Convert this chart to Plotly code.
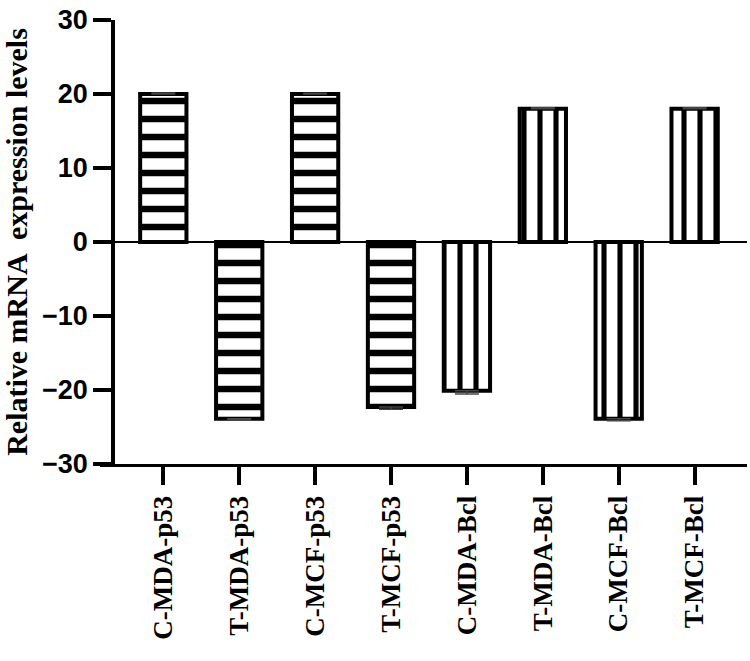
import plotly.graph_objects as go

categories = ["C-MDA-p53", "T-MDA-p53", "C-MCF-p53", "T-MCF-p53",
              "C-MDA-Bcl", "T-MDA-Bcl", "C-MCF-Bcl", "T-MCF-Bcl"]
values = [20.0, -23.9, 20.0, -22.3, -20.1, 18.0, -23.9, 18.0]
errors = [0.15, 0.2, 0.1, 0.3, 0.45, 0.15, 0.25, 0.15]
y_ticks = [-30, -20, -10, 0, 10, 20, 30]

shapes_pat = ["-" if "p53" in c else "|" for c in categories]
sizes_pat = [18 if "p53" in c else 16 for c in categories]
solid_pat = [0.36 if "p53" in c else 0.32 for c in categories]
err_up = [e if v > 0 else 0 for v, e in zip(values, errors)]
err_dn = [e if v < 0 else 0 for v, e in zip(values, errors)]

fig = go.Figure()
fig.add_trace(go.Bar(
    x=categories, y=values,
    marker=dict(color="white",
                line=dict(color="black", width=4),
                pattern=dict(shape=shapes_pat, size=sizes_pat, solidity=solid_pat,
                             fgcolor="black", fgopacity=1, bgcolor="white",
                             fillmode="overlay")),
    error_y=dict(type="data", symmetric=False, array=err_up, arrayminus=err_dn,
                 color="#444", thickness=1.5, width=12),
    showlegend=False,
))

fig.add_shape(type="line", xref="paper", yref="y", x0=0.02, x1=1, y0=0, y1=0,
              line=dict(color="black", width=2), layer="above")

fig.update_layout(
    width=750, height=661,
    margin=dict(l=100, r=3, t=20, b=197),
    paper_bgcolor="white", plot_bgcolor="white",
    bargap=0.39,
    xaxis=dict(
        range=[-0.834, 7.69], domain=[0, 1],
        showline=True, linecolor="black", linewidth=3,
        ticks="outside", ticklen=18, tickwidth=3.5, tickcolor="black",
        tickangle=-90, showgrid=False,
        tickfont=dict(family="Liberation Serif, Times New Roman, serif", size=27,
                      color="black", weight="bold"),
    ),
    yaxis=dict(
        range=[-30, 30], tickvals=y_ticks, anchor="free", position=0.02,
        showline=True, linecolor="black", linewidth=3.5,
        ticks="outside", ticklen=18, tickwidth=3.5, tickcolor="black",
        showgrid=False, zeroline=False,
        tickfont=dict(family="Liberation Sans, Arial, sans-serif", size=27,
                      color="black", weight="bold"),
        title=dict(text="Relative mRNA  expression levels", standoff=12,
                   font=dict(family="Liberation Serif, Times New Roman, serif",
                             size=30, color="black", weight="bold")),
    ),
)

fig.write_html("out.html")
